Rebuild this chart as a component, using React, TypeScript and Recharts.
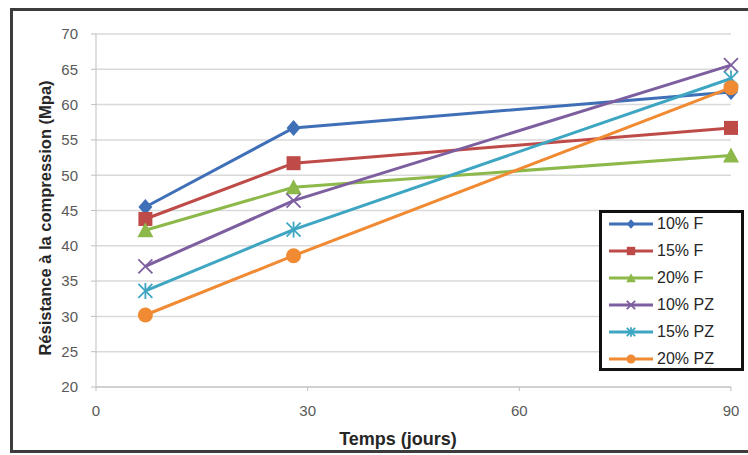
import * as React from "react";
import { LineChart, Line, XAxis, YAxis, CartesianGrid, Label } from "recharts";

/* data */
const DAYS = [7, 28, 90];
const F10 = [45.5, 56.7, 61.8];
const F15 = [43.8, 51.7, 56.7];
const F20 = [42.2, 48.3, 52.8];
const PZ10 = [37.1, 46.4, 65.6];
const PZ15 = [33.6, 42.3, 63.7];
const PZ20 = [30.2, 38.6, 62.4];
const X_TICKS = [0, 30, 60, 90];
const Y_TICKS = [20, 25, 30, 35, 40, 45, 50, 55, 60, 65, 70];

type Marker = "diamond" | "square" | "triangle" | "x" | "star" | "circle";

const SERIES: Array<{ name: string; values: number[]; color: string; marker: Marker }> = [
  { name: "10% F", values: F10, color: "#3F6FB6", marker: "diamond" },
  { name: "15% F", values: F15, color: "#BE4B48", marker: "square" },
  { name: "20% F", values: F20, color: "#8DB84A", marker: "triangle" },
  { name: "10% PZ", values: PZ10, color: "#7D5FA0", marker: "x" },
  { name: "15% PZ", values: PZ15, color: "#3EA6C2", marker: "star" },
  { name: "20% PZ", values: PZ20, color: "#F08A33", marker: "circle" },
];

const FONT = '"Liberation Sans", Arial, sans-serif';
const TICK = "#595959";
const GRID = "#D9D9D9";

function MarkerShape({ kind, cx, cy, color, s = 1 }: { kind: Marker; cx: number; cy: number; color: string; s?: number }) {
  switch (kind) {
    case "diamond":
      return <polygon points={`${cx},${cy - 8 * s} ${cx + 7 * s},${cy} ${cx},${cy + 8 * s} ${cx - 7 * s},${cy}`} fill={color} />;
    case "square":
      return <rect x={cx - 7 * s} y={cy - 7 * s} width={14 * s} height={14 * s} fill={color} />;
    case "triangle":
      return <polygon points={`${cx},${cy - 8 * s} ${cx + 8 * s},${cy + 7 * s} ${cx - 8 * s},${cy + 7 * s}`} fill={color} />;
    case "x":
      return (
        <g stroke={color} strokeWidth={1.8}>
          <line x1={cx - 7 * s} y1={cy - 7 * s} x2={cx + 7 * s} y2={cy + 7 * s} />
          <line x1={cx - 7 * s} y1={cy + 7 * s} x2={cx + 7 * s} y2={cy - 7 * s} />
        </g>
      );
    case "star":
      return (
        <g stroke={color} strokeWidth={1.8}>
          <line x1={cx - 7 * s} y1={cy - 7 * s} x2={cx + 7 * s} y2={cy + 7 * s} />
          <line x1={cx - 7 * s} y1={cy + 7 * s} x2={cx + 7 * s} y2={cy - 7 * s} />
          <line x1={cx} y1={cy - 8 * s} x2={cx} y2={cy + 8 * s} />
        </g>
      );
    default:
      return <circle cx={cx} cy={cy} r={7.5 * s} fill={color} />;
  }
}

export default function App() {
  return (
    <div style={{ position: "absolute", left: 0, top: 0, width: 748, height: 455, background: "#fff", overflow: "hidden", fontFamily: FONT }}>
      {/* cadre extérieur */}
      <div style={{ position: "absolute", left: 10, top: 8, width: 760, height: 445, border: "3px solid #3C3C3C", boxSizing: "border-box" }} />
      <div style={{ position: "absolute", left: 0, top: 0 }}>
        <LineChart width={748} height={455} margin={{ top: 34, right: 17, bottom: 8, left: 28 }}>
          <CartesianGrid vertical={false} stroke={GRID} strokeWidth={1.5} horizontalValues={Y_TICKS} />
          <XAxis
            type="number"
            dataKey="day"
            domain={[0, 90]}
            ticks={X_TICKS}
            height={60}
            tickSize={4}
            tickMargin={14}
            stroke="#BFBFBF"
            tick={{ fill: TICK, fontSize: 15, fontFamily: FONT }}
          >
            <Label
              content={({ viewBox }: any) => (
                <text x={398} y={viewBox.y + 58} textAnchor="middle" fontSize={18} fontWeight="bold" fill="#262626" fontFamily={FONT}>
                  Temps (jours)
                </text>
              )}
            />
          </XAxis>
          <YAxis
            type="number"
            domain={[20, 70]}
            ticks={Y_TICKS}
            width={68}
            tickSize={5}
            tickMargin={13}
            stroke="#BFBFBF"
            tick={{ fill: TICK, fontSize: 15, fontFamily: FONT }}
          >
            <Label
              content={() => (
                <text
                  x={45}
                  y={218}
                  transform="rotate(-90 45 218)"
                  textAnchor="middle"
                  dominantBaseline="central"
                  fontSize={16.5}
                  fontWeight="bold"
                  fill="#262626"
                  fontFamily={FONT}
                >
                  Résistance à la compression (Mpa)
                </text>
              )}
            />
          </YAxis>
          {SERIES.map((s) => (
            <Line
              key={s.name}
              name={s.name}
              data={DAYS.map((d, i) => ({ day: d, v: s.values[i] }))}
              dataKey="v"
              stroke={s.color}
              strokeWidth={3}
              isAnimationActive={false}
              dot={(p: any) => <MarkerShape key={`${s.name}-${p.index}`} kind={s.marker} cx={p.cx} cy={p.cy} color={s.color} />}
              activeDot={false}
            />
          ))}
        </LineChart>
      </div>
      {/* légende */}
      <div
        style={{
          position: "absolute",
          left: 599,
          top: 210,
          width: 145,
          height: 161,
          border: "3px solid #111",
          boxSizing: "border-box",
          background: "#fff",
          padding: "0 0 0 6px",
        }}
      >
        {SERIES.map((s, i) => (
          <div key={s.name} style={{ display: "flex", alignItems: "center", height: 27, marginTop: i === 0 ? -3 : 0 }}>
            <svg width={46} height={16}>
              <line x1={1} y1={8} x2={45} y2={8} stroke={s.color} strokeWidth={3} />
              <MarkerShape kind={s.marker} cx={23} cy={8} color={s.color} s={0.6} />
            </svg>
            <span style={{ marginLeft: 3, fontSize: 16, color: "#262626" }}>{s.name}</span>
          </div>
        ))}
      </div>
    </div>
  );
}
